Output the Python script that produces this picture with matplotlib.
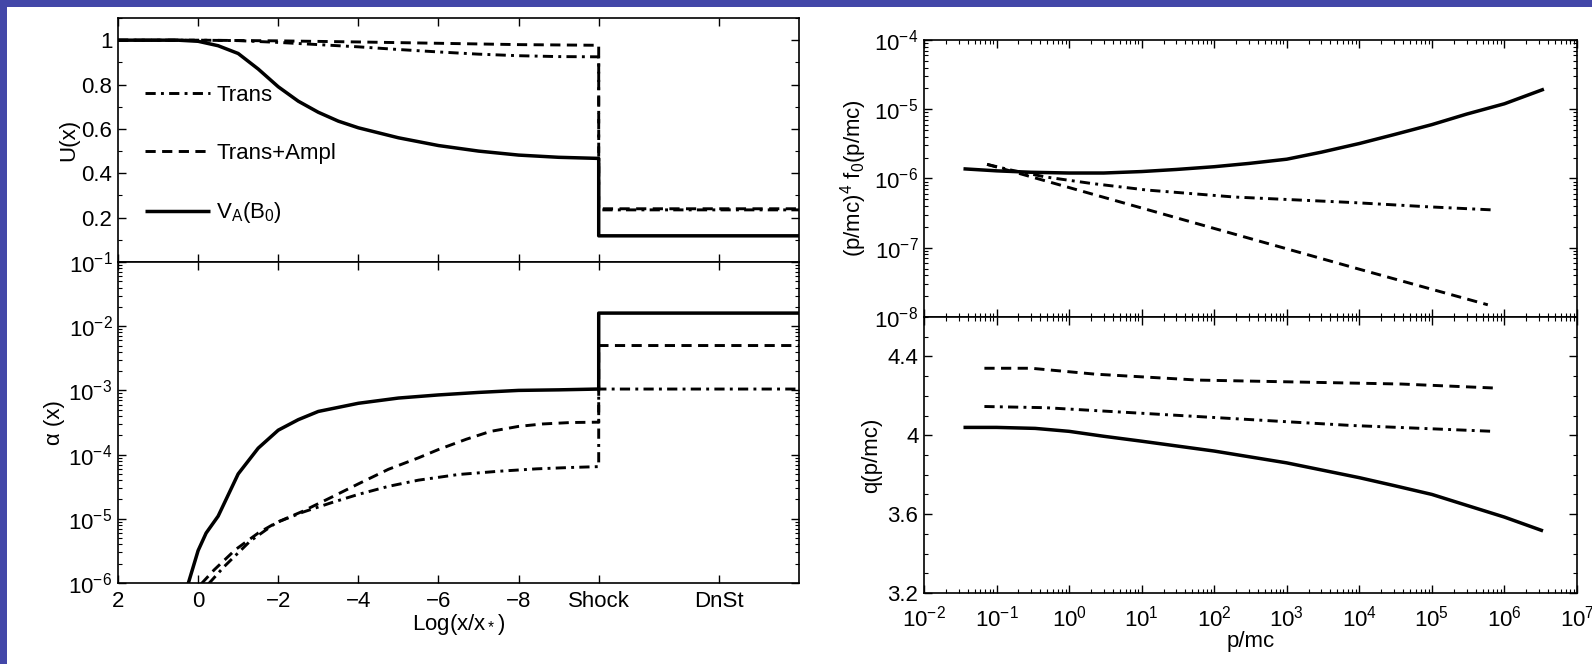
import matplotlib
matplotlib.use("Agg")
import matplotlib.pyplot as plt
from matplotlib import font_manager
from matplotlib.patches import Rectangle
from matplotlib.ticker import LogLocator, MultipleLocator, FixedLocator, NullFormatter

# ---- Fonts ------------------------------------------------------------------
names = {f.name for f in font_manager.fontManager.ttflist}
main_font = "Liberation Sans Narrow" if "Liberation Sans Narrow" in names else "Liberation Sans"
plt.rcParams["font.family"] = [main_font, "DejaVu Sans"]
plt.rcParams["mathtext.fontset"] = "custom"
plt.rcParams["mathtext.rm"] = main_font
plt.rcParams["mathtext.it"] = main_font
plt.rcParams["mathtext.bf"] = main_font

FS = 16

# ---- Data: left panels (x = Log(x/x*), shock at -10, downstream to -15) -----
x_shock, x_dnst = -10, -13

logx_U_sol = [2, 0.5, 0, -0.5, -1, -1.5, -2, -2.5, -3, -3.5, -4, -5, -6, -7, -8, -9, -10, -10, -15]
U_sol = [1.0, 1.0, 0.995, 0.975, 0.94, 0.87, 0.79, 0.725, 0.675, 0.635, 0.605, 0.56, 0.525,
         0.5, 0.482, 0.472, 0.467, 0.118, 0.118]
logx_U_dd = [2, 0, -1, -2, -3, -4, -5, -6, -7, -8, -9, -10, -10, -15]
U_dd = [1.0, 1.0, 0.998, 0.99, 0.98, 0.97, 0.958, 0.947, 0.937, 0.93, 0.926, 0.925, 0.235, 0.235]
logx_U_da = [2, 0, -2, -4, -6, -8, -10, -10, -15]
U_da = [1.0, 1.0, 0.997, 0.992, 0.986, 0.98, 0.977, 0.24, 0.24]

logx_a_sol = [0.35, 0, -0.2, -0.5, -1, -1.5, -2, -2.5, -3, -4, -5, -6, -7, -8, -9, -10, -10, -15]
a_sol = [6e-7, 3.2e-6, 6.0e-6, 1.1e-5, 5.0e-5, 1.26e-4, 2.4e-4, 3.5e-4, 4.7e-4, 6.3e-4, 7.6e-4,
         8.5e-4, 9.3e-4, 1.0e-3, 1.02e-3, 1.05e-3, 1.6e-2, 1.6e-2]
logx_a_da = [0.2, -0.4, -0.93, -1.5, -1.95, -2.6, -3.35, -4.0, -4.75, -5.5, -6.0, -6.7, -7.3,
             -8.0, -8.6, -9.3, -10, -10, -15]
a_da = [6.3e-7, 1.6e-6, 3.3e-6, 6.0e-6, 8.7e-6, 1.3e-5, 2.2e-5, 3.5e-5, 5.9e-5, 8.9e-5, 1.2e-4,
        1.74e-4, 2.3e-4, 2.75e-4, 3.0e-4, 3.16e-4, 3.2e-4, 5.0e-3, 5.0e-3]
logx_a_dd = [0.1, -0.28, -0.65, -1.3, -1.95, -2.6, -3.35, -4.0, -4.75, -5.5, -6.5, -7.5, -8.45,
             -9.3, -10, -10, -15]
a_dd = [5e-7, 1e-6, 1.8e-6, 4.5e-6, 8.7e-6, 1.26e-5, 1.8e-5, 2.4e-5, 3.2e-5, 4.0e-5, 4.9e-5,
        5.5e-5, 6.0e-5, 6.3e-5, 6.5e-5, 1.05e-3, 1.05e-3]

left_xticks = [2, 0, -2, -4, -6, -8, x_shock, x_dnst]
left_xlabels = ["2", "0", "\u22122", "\u22124", "\u22126", "\u22128", "Shock", "DnSt"]

# ---- Data: right panels (p/mc) -------------------------------------------------
p_f_sol = [0.035, 0.1, 0.3, 1, 3, 10, 30, 100, 300, 1e3, 3e3, 1e4, 3e4, 1e5, 3e5, 1e6, 3.5e6]
f_sol = [1.38e-6, 1.29e-6, 1.23e-6, 1.2e-6, 1.2e-6, 1.26e-6, 1.35e-6, 1.48e-6, 1.65e-6, 1.9e-6,
         2.4e-6, 3.2e-6, 4.3e-6, 6.0e-6, 8.5e-6, 1.2e-5, 1.95e-5]
p_f_dd = [0.074, 0.16, 0.48, 2, 12, 190, 8e3, 9e4, 7.6e5]
f_dd = [1.6e-6, 1.32e-6, 1.05e-6, 8.5e-7, 6.8e-7, 5.4e-7, 4.5e-7, 3.9e-7, 3.5e-7]
p_f_da = [0.074, 1, 100, 1e4, 5.9e5]
f_da = [1.6e-6, 7.4e-7, 1.9e-7, 4.9e-8, 1.5e-8]

p_q_sol = [0.035, 0.1, 0.34, 1, 3, 10, 100, 1e3, 1e4, 3e4, 1e5, 3e5, 1e6, 3.4e6]
q_sol = [4.04, 4.04, 4.035, 4.02, 3.995, 3.97, 3.92, 3.86, 3.785, 3.745, 3.70, 3.645, 3.585, 3.515]
p_q_da = [0.068, 0.3, 2.3, 60, 1.5e3, 3.8e4, 7e5]
q_da = [4.34, 4.34, 4.31, 4.28, 4.27, 4.26, 4.24]
p_q_dd = [0.068, 0.47, 12, 300, 7.6e3, 7e5]
q_dd = [4.146, 4.14, 4.11, 4.08, 4.05, 4.02]

# ---- Styles -------------------------------------------------------------------
LW = 2.1
sol = dict(color="black", lw=2.5, solid_capstyle="butt")
dash = dict(color="black", lw=LW, linestyle=(0, (3.5, 2.2)))
dashdot = dict(color="black", lw=LW, linestyle=(0, (3.5, 1.8, 1.0, 1.8)))

# ---- Figure ---------------------------------------------------------------------
W, H = 1592, 664
fig = plt.figure(figsize=(W / 100, H / 100), dpi=100, facecolor="#4347a8")
fig.patches.append(Rectangle((7 / W, 0), 1, 1 - 7 / H, transform=fig.transFigure,
                             facecolor="white", edgecolor="none", zorder=-10))


def box(x0, y0, x1, y1):
    return [x0 / W, 1 - y1 / H, (x1 - x0) / W, (y1 - y0) / H]


axU = fig.add_axes(box(118, 18, 799, 262))
axA = fig.add_axes(box(118, 262, 799, 583))
axF = fig.add_axes(box(924, 40, 1577, 317))
axQ = fig.add_axes(box(924, 317, 1577, 593))

for ax in (axU, axA, axF, axQ):
    ax.tick_params(which="both", direction="in", top=True, right=True, labelsize=FS, pad=4)
    ax.tick_params(which="major", length=6, width=1.0)
    ax.tick_params(which="minor", length=3, width=0.8)
    for s in ax.spines.values():
        s.set_linewidth(1.2)

# ---- Left top: U(x) ---------------------------------------------------------------
axU.plot(logx_U_dd, U_dd, label="Trans", **dashdot)
axU.plot(logx_U_da, U_da, label="Trans+Ampl", **dash)
axU.plot(logx_U_sol, U_sol, label="V$_\\mathregular{A}$(B$_\\mathregular{0}$)", **sol)
axU.set_xlim(2, -15)
axU.set_ylim(0, 1.1)
axU.set_yticks([0.2, 0.4, 0.6, 0.8, 1.0])
axU.set_yticklabels(["0.2", "0.4", "0.6", "0.8", "1"])
axU.yaxis.set_minor_locator(MultipleLocator(0.1))
axU.xaxis.set_major_locator(FixedLocator(left_xticks))
axU.tick_params(labelbottom=False)
axU.set_ylabel("U(x)", fontsize=FS, labelpad=2)
axU.legend(loc="upper left", bbox_to_anchor=(0.04, 0.725), frameon=False, fontsize=FS,
           borderpad=0, borderaxespad=0, handlelength=2.9, handletextpad=0.3,
           labelspacing=1.65)

# ---- Left bottom: alpha(x) ---------------------------------------------------------
axA.plot(logx_a_dd, a_dd, **dashdot)
axA.plot(logx_a_da, a_da, **dash)
axA.plot(logx_a_sol, a_sol, **sol)
axA.set_yscale("log")
axA.set_xlim(2, -15)
axA.set_ylim(1e-6, 1e-1)
axA.yaxis.set_major_locator(LogLocator(base=10, numticks=10))
axA.yaxis.set_minor_locator(LogLocator(base=10, subs=range(2, 10), numticks=10))
axA.yaxis.set_minor_formatter(NullFormatter())
axA.set_xticks(left_xticks)
axA.set_xticklabels(left_xlabels)
axA.tick_params(axis="x", pad=6)
axA.set_ylabel("\u03b1 (x)", fontsize=FS, labelpad=2)
axA.set_xlabel("Log(x/x$_*$)", fontsize=FS, labelpad=0)

# ---- Right top: (p/mc)^4 f0 ---------------------------------------------------------
axF.plot(p_f_dd, f_dd, **dashdot)
axF.plot(p_f_da, f_da, **dash)
axF.plot(p_f_sol, f_sol, **sol)
axF.set_xscale("log")
axF.set_yscale("log")
axF.set_xlim(1e-2, 1e7)
axF.set_ylim(1e-8, 1e-4)
axF.set_ylabel("(p/mc)$^\\mathregular{4}$ f$_\\mathregular{0}$(p/mc)", fontsize=FS, labelpad=4)
axF.tick_params(labelbottom=False)

# ---- Right bottom: q(p/mc) -----------------------------------------------------------
axQ.plot(p_q_dd, q_dd, **dashdot)
axQ.plot(p_q_da, q_da, **dash)
axQ.plot(p_q_sol, q_sol, **sol)
axQ.set_xscale("log")
axQ.set_xlim(1e-2, 1e7)
axQ.set_ylim(3.2, 4.6)
axQ.set_yticks([3.2, 3.6, 4.0, 4.4])
axQ.set_yticklabels(["3.2", "3.6", "4", "4.4"])
axQ.yaxis.set_minor_locator(MultipleLocator(0.1))
axQ.tick_params(axis="x", pad=9)
axQ.set_ylabel("q(p/mc)", fontsize=FS, labelpad=4)
axQ.set_xlabel("p/mc", fontsize=FS, labelpad=0)

for ax in (axF, axQ):
    ax.xaxis.set_major_locator(LogLocator(base=10, numticks=20))
    ax.xaxis.set_minor_locator(LogLocator(base=10, subs=range(2, 10), numticks=20))
    ax.xaxis.set_minor_formatter(NullFormatter())
axF.yaxis.set_major_locator(LogLocator(base=10, numticks=10))
axF.yaxis.set_minor_locator(LogLocator(base=10, subs=range(2, 10), numticks=10))
axF.yaxis.set_minor_formatter(NullFormatter())

fig.savefig("out.png", dpi=100, facecolor=fig.get_facecolor())
plt.close(fig)
